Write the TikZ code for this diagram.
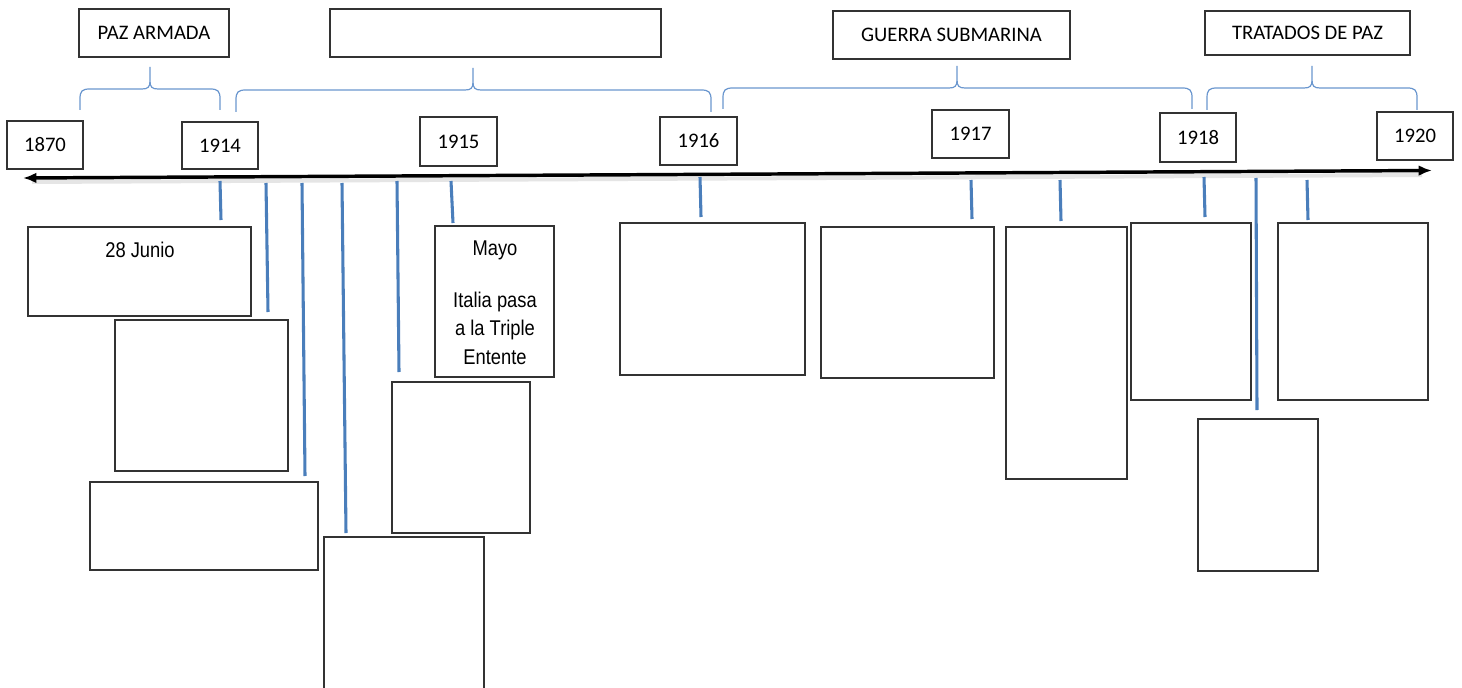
\documentclass[tikz,border=0pt]{standalone}
\usepackage{fontspec}
\setmainfont{Carlito}
\newfontfamily\arialn[FakeStretch=0.86]{Liberation Sans}
\usetikzlibrary{arrows.meta}
\definecolor{tickblue}{HTML}{4A7EBB}
\definecolor{braceblue}{HTML}{6B97CF}
\definecolor{boxgray}{HTML}{333333}
\tikzset{
  bx/.style={draw=boxgray,line width=1.1pt,inner sep=0pt,font=\fontsize{15.5}{18}\selectfont},
  tickln/.style={draw=tickblue,line width=2.3pt},
  brc/.style={draw=braceblue,line width=0.9pt},
  axis/.style={line width=2.6pt,{Latex[length=10pt,width=8pt]}-{Latex[length=10pt,width=8pt]}},
  smalltxt/.style={font=\arialn\fontsize{16}{21}\selectfont,inner sep=0pt,anchor=base}
}
\newcommand{\bxnode}[6]{\node[bx,minimum width={(#4-#2)*0.75pt},minimum height={(#5-#3)*0.75pt}] (#1) at ({(#2+#4)/2},{(#3+#5)/2}) {#6};}
% x1, x2, xm, ylevel, ytip, yend
\newcommand{\brcpath}[6]{\draw[brc] (#1,#6) -- (#1,#4+10) .. controls (#1,#4+2) and (#1+2,#4) .. (#1+10,#4) -- (#3-8,#4) .. controls (#3-2,#4) and (#3,#4-2) .. (#3,#4-8) -- (#3,#5) -- (#3,#4-8) .. controls (#3,#4-2) and (#3+2,#4) .. (#3+8,#4) -- (#2-10,#4) .. controls (#2-2,#4) and (#2,#4+2) .. (#2,#4+10) -- (#2,#6);}
\begin{document}
\begin{tikzpicture}[x=0.75pt,y=-0.75pt]
\clip (0,0) rectangle (1462,688);
\fill[white] (0,0) rectangle (1462,688);

% top labels
\bxnode{paz}{79}{9}{229}{57}{PAZ ARMADA}
\bxnode{guerra1}{330}{9}{661}{57}{}
\bxnode{sub}{833}{11}{1070}{59}{GUERRA SUBMARINA}
\bxnode{trat}{1205}{11}{1410}{55}{TRATADOS DE PAZ}

% braces
\brcpath{80}{220}{150}{89}{67}{110}
\brcpath{236}{711}{473}{90}{68}{112}
\brcpath{723}{1192}{957}{88}{66}{109}
\brcpath{1207}{1417}{1312}{88}{66}{110}

% years
\bxnode{y1870}{7}{121}{83}{169}{1870}
\bxnode{y1914}{182}{122}{258}{169}{1914}
\bxnode{y1915}{420}{117}{497}{166}{1915}
\bxnode{y1916}{660}{117}{737}{165}{1916}
\bxnode{y1917}{932}{110}{1009}{158}{1917}
\bxnode{y1918}{1160}{113}{1236}{162}{1918}
\bxnode{y1920}{1377}{112}{1453}{160}{1920}

% axis
\draw[black!10,line width=3pt] (32,182) -- (1422,175);
\coordinate (aL) at (23,178);
\coordinate (aR) at (1432,170.5);
\draw[axis] (aL) -- (aR);

% bottom boxes
\bxnode{junio}{28}{227}{251}{316}{}
\bxnode{bB}{115}{320}{288}{471}{}
\bxnode{bC}{90}{482}{318}{570}{}
\bxnode{bD}{324}{537}{484}{700}{}
\bxnode{bE}{392}{382}{530}{533}{}
\bxnode{mayo}{435}{226}{554}{377}{}
\bxnode{bF}{620}{223}{805}{375}{}
\bxnode{bG}{821}{227}{994}{378}{}
\bxnode{bH}{1006}{227}{1127}{479}{}
\bxnode{bI}{1131}{223}{1251}{400}{}
\bxnode{bJ}{1198}{419}{1318}{571}{}
\bxnode{bK}{1278}{223}{1428}{400}{}

\node[smalltxt] (tj) at (140,257) {28 Junio};
\node[smalltxt] (tm1) at (495,255) {Mayo};
\node[smalltxt] (tm2) at (495,307) {Italia pasa};
\node[smalltxt] (tm3) at (495,335) {a la Triple};
\node[smalltxt] (tm4) at (495,364) {Entente};

% ticks
\foreach \n/\xa/\ya/\xb/\yb in {1/220/181/221/220, 2/266/183/268/312, 3/302/183/305/476, 4/342/183/346/533, 5/397/181/399/372, 6/451/181/453/223, 7/700/177/701/217, 8/971/180/972/219, 9/1060/180/1061/221, 10/1204/177/1205/217, 11/1256/178/1257/410, 12/1307/180/1308/220}{
  \coordinate (ta\n) at (\xa,\ya);
  \coordinate (tb\n) at (\xb,\yb);
  \draw[tickln] (ta\n) -- (tb\n);
}
\end{tikzpicture}
\end{document}
